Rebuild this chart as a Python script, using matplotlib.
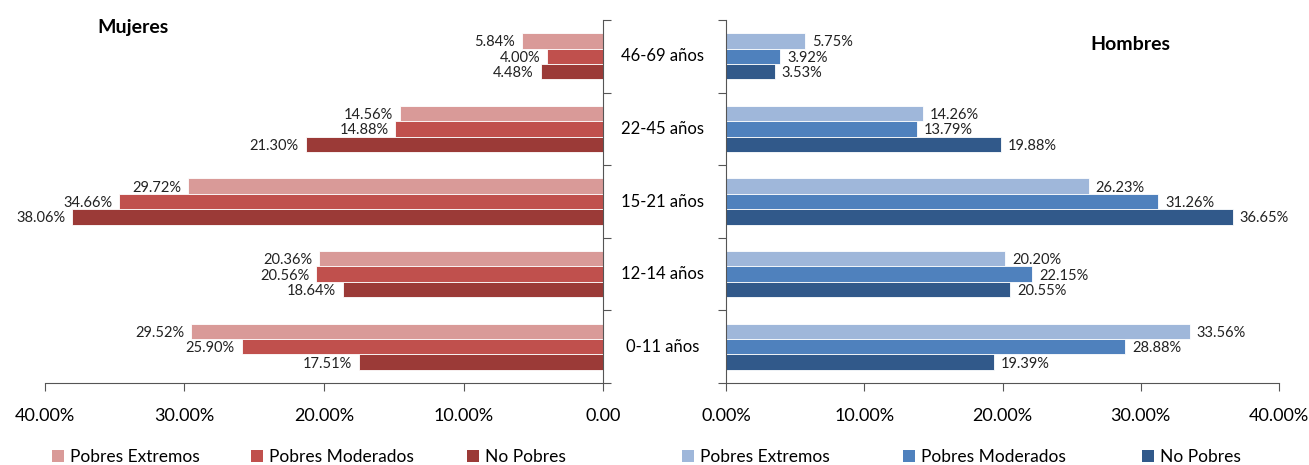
import numpy as np
import matplotlib
matplotlib.use("Agg")
from matplotlib import pyplot as plt
from matplotlib.patches import Patch
from matplotlib.ticker import FuncFormatter

plt.rcParams['font.family'] = ['Lato', 'DejaVu Sans']

# age groups, listed bottom to top
grupos = ['0-11 años', '12-14 años', '15-21 años', '22-45 años', '46-69 años']
series = ['Pobres Extremos', 'Pobres Moderados', 'No Pobres']

mujeres_extremos = [29.52, 20.36, 29.72, 14.56, 5.84]
mujeres_moderados = [25.90, 20.56, 34.66, 14.88, 4.00]
mujeres_no_pobres = [17.51, 18.64, 38.06, 21.30, 4.48]

hombres_extremos = [33.56, 20.20, 26.23, 14.26, 5.75]
hombres_moderados = [28.88, 22.15, 31.26, 13.79, 3.92]
hombres_no_pobres = [19.39, 20.55, 36.65, 19.88, 3.53]

rojos = ['#d99a98', '#c0504d', '#9b3a37']
azules = ['#9fb7da', '#4f81bd', '#31598a']

W, H = 1309, 465
fig = plt.figure(figsize=(W / 100, H / 100), dpi=100)
ax_m = fig.add_axes([45 / W, 1 - 383 / H, 558 / W, 363 / H])
ax_h = fig.add_axes([726 / W, 1 - 383 / H, 553 / W, 363 / H])

y = np.arange(len(grupos))
h = 0.212
offsets = [h, 0, -h]


def draw_side(ax, datos, colores, side):
    for vals, off, col in zip(datos, offsets, colores):
        bars = ax.barh(y + off, vals, height=h, color=col,
                       edgecolor='white', linewidth=0.6)
        for b, v in zip(bars, vals):
            cy = b.get_y() + b.get_height() / 2
            ha = 'right' if side == 'left' else 'left'
            ax.text(v + 0.5, cy - 0.02, f'{v:.2f}%', ha=ha, va='center',
                    fontsize=10.5, color='#222222')
    ax.set_xlim(0, 40)
    ax.set_ylim(-0.5, len(grupos) - 0.5)
    ax.set_xticks([0, 10, 20, 30, 40])
    ax.set_yticks(np.arange(-0.5, len(grupos), 1.0))
    ax.set_yticklabels([])
    ax.spines['top'].set_visible(False)
    ax.tick_params(axis='x', length=6, color='#555555', labelsize=13,
                   pad=12)
    ax.tick_params(axis='y', length=6, color='#555555')
    ax.spines['bottom'].set_color('#555555')


draw_side(ax_m, [mujeres_extremos, mujeres_moderados, mujeres_no_pobres],
          rojos, 'left')
ax_m.invert_xaxis()
ax_m.spines['left'].set_visible(False)
ax_m.spines['right'].set_color('#555555')
ax_m.yaxis.tick_right()
ax_m.xaxis.set_major_formatter(
    FuncFormatter(lambda v, p: '0.00' if v == 0 else f'{v:.2f}%'))

draw_side(ax_h, [hombres_extremos, hombres_moderados, hombres_no_pobres],
          azules, 'right')
ax_h.spines['right'].set_visible(False)
ax_h.spines['left'].set_color('#555555')
ax_h.xaxis.set_major_formatter(FuncFormatter(lambda v, p: f'{v:.2f}%'))

# age group names between the two panels
for yi, g in zip(y, grupos):
    yf = fig.transFigure.inverted().transform(
        ax_h.transData.transform((0, yi)))[1]
    fig.text(663 / W, yf, g, ha='center', va='center', fontsize=12)

fig.text(97 / W, 1 - 28 / H, 'Mujeres', fontsize=14, fontweight='bold',
         ha='left', va='center')
fig.text(1090 / W, 1 - 45 / H, 'Hombres', fontsize=14, fontweight='bold',
         ha='left', va='center')

# one legend entry per slot, spaced like equal-width columns
leg_x = {'m': [52, 251, 467], 'h': [682, 903, 1142]}
for key, colores in [('m', rojos), ('h', azules)]:
    for x0, c, nombre in zip(leg_x[key], colores, series):
        fig.legend([Patch(facecolor=c, edgecolor='none')], [nombre],
                   loc='center left', bbox_to_anchor=(x0 / W, 1 - 457 / H),
                   frameon=False, fontsize=12.5, handlelength=0.7,
                   handleheight=0.7, handletextpad=0.35,
                   borderpad=0, borderaxespad=0)

fig.savefig('out.png', dpi=100)
